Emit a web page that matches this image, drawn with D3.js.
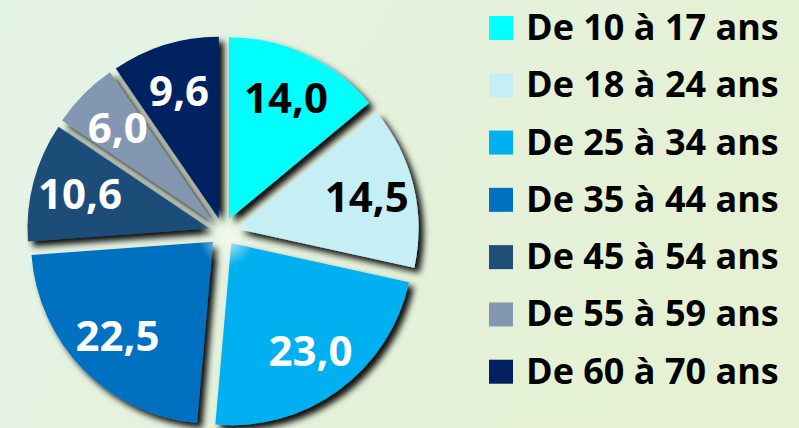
<!DOCTYPE html>
<html><head><meta charset="utf-8">
<script src="https://cdn.jsdelivr.net/npm/d3@7"></script>
<style>html,body{margin:0;padding:0;overflow:hidden;background:#e6f2e0}</style>
</head><body>
<svg id="chart" width="799" height="428"></svg>
<script>
const categories = ["De 10 à 17 ans","De 18 à 24 ans","De 25 à 34 ans","De 35 à 44 ans","De 45 à 54 ans","De 55 à 59 ans","De 60 à 70 ans"];
const values = [14.0, 14.5, 23.0, 22.5, 10.6, 6.0, 9.6];
const valueLabels = ["14,0","14,5","23,0","22,5","10,6","6,0","9,6"];
const colors = ["#00FFFF","#C5EEF5","#00B0F0","#0070C0","#1F4E79","#8497B0","#002060"];
const labelColors = ["#000","#000","#fff","#fff","#fff","#fff","#fff"];

const W = 799, H = 428;
const svg = d3.select("#chart");
const defs = svg.append("defs");

const bg = defs.append("linearGradient").attr("id","bg").attr("x1","0").attr("y1","0").attr("x2","1").attr("y2","0.3");
bg.append("stop").attr("offset","0").attr("stop-color","#e5f4e8");
bg.append("stop").attr("offset","0.5").attr("stop-color","#e4f1dc");
bg.append("stop").attr("offset","1").attr("stop-color","#e6f1d3");
svg.append("rect").attr("width",W).attr("height",H).attr("fill","url(#bg)");

const glow = defs.append("radialGradient").attr("id","glow");
glow.append("stop").attr("offset","0").attr("stop-color","#f4fbee").attr("stop-opacity",0.85);
glow.append("stop").attr("offset","1").attr("stop-color","#f4fbee").attr("stop-opacity",0);

const f = defs.append("filter").attr("id","shadow").attr("x","-20%").attr("y","-20%").attr("width","150%").attr("height","150%");
f.append("feDropShadow").attr("dx",5).attr("dy",5).attr("stdDeviation",3).attr("flood-color","#000").attr("flood-opacity",0.95);

const cx = 223, cy = 232, R = 182, explode = 14, labelR = 134;
const g = svg.append("g").attr("transform",`translate(${cx},${cy})`);

const pie = d3.pie().sort(null).value(d => d);
const arcs = pie(values);
const arc = d3.arc().innerRadius(0).outerRadius(R);
const labelArc = d3.arc().innerRadius(labelR).outerRadius(labelR);

const slices = g.selectAll("g.slice").data(arcs).enter().append("g")
  .attr("class","slice")
  .attr("transform", d => {
    const a = (d.startAngle + d.endAngle)/2;
    return `translate(${explode*Math.sin(a)},${-explode*Math.cos(a)})`;
  });

slices.append("path").attr("d", arc).attr("fill",(d,i)=>colors[i]).attr("filter","url(#shadow)");

g.append("circle").attr("cx",4).attr("cy",6).attr("r",28).attr("fill","url(#glow)");

slices.append("text")
  .attr("transform", d => `translate(${labelArc.centroid(d)})`)
  .attr("text-anchor","middle").attr("dy","0.36em")
  .attr("font-family","'Open Sans', sans-serif").attr("font-weight",700).attr("font-size",42)
  .attr("fill",(d,i)=>labelColors[i])
  .text((d,i)=>valueLabels[i]);

const legend = svg.append("g").attr("transform","translate(489,16)");
const ly = d3.scaleBand().domain(categories).range([0,401]).paddingInner(0);
const rows = legend.selectAll("g").data(categories).enter().append("g")
  .attr("transform", d => `translate(0,${ly(d)})`);
rows.append("rect").attr("width",24).attr("height",24).attr("fill",(d,i)=>colors[i]);
rows.append("text").attr("x",37).attr("y",24)
  .attr("font-family","'Open Sans', sans-serif").attr("font-weight",700).attr("font-size",36)
  .attr("fill","#000").text(d=>d);
</script>
</body></html>
